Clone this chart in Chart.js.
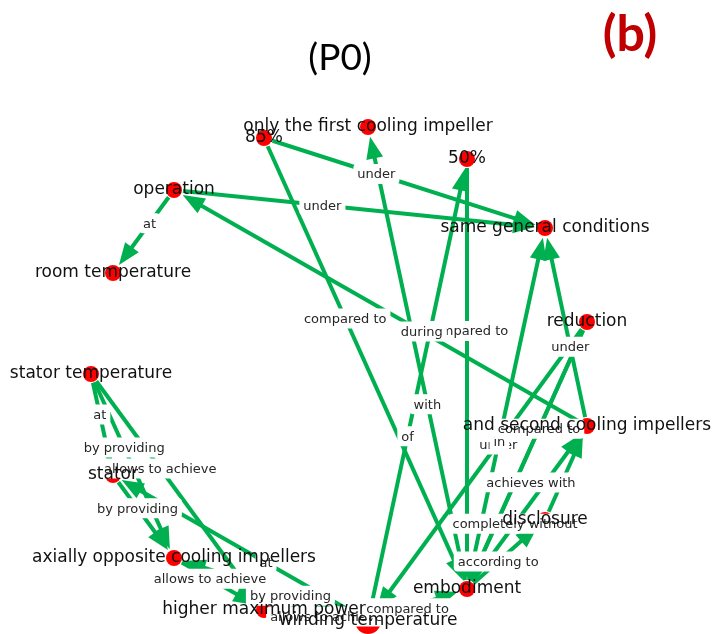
<!DOCTYPE html>
<html>
<head>
<meta charset="utf-8">
<script src="https://cdn.jsdelivr.net/npm/chart.js@4.4.0/dist/chart.umd.min.js"></script>
<style>
  body { margin: 0; background: #fff; }
  #area { width: 715px; height: 634px; position: relative; }
</style>
</head>
<body>
<div id="area"><canvas id="grafo"></canvas></div>
<script>
/*nós do grafo (layout circular)*/
const nos = [
  'stator temperature', 'stator', 'axially opposite cooling impellers', 'higher maximum power',
  'winding temperature', 'embodiment', 'disclosure', 'and second cooling impellers',
  'reduction', 'same general conditions', '50%', 'only the first cooling impeller',
  '85%', 'operation', 'room temperature'
];
const nosX = [91, 113, 174, 264, 368, 467, 545, 587, 587, 545, 467, 368, 264, 174, 113];
const nosY = [374, 475, 558, 610, 621, 589, 520, 426, 322, 228, 159, 127, 138, 190, 273];

/*arestas: origem -> destino com rótulo*/
const origem = [
  'operation', 'operation', '85%', '85%', 'embodiment', 'winding temperature',
  '50%', 'and second cooling impellers', 'and second cooling impellers', 'embodiment',
  'reduction', 'reduction', 'embodiment', 'disclosure', 'embodiment', 'embodiment',
  'stator temperature', 'stator temperature', 'stator temperature', 'stator',
  'axially opposite cooling impellers', 'winding temperature', 'winding temperature',
  'winding temperature', 'winding temperature'
];
const destino = [
  'room temperature', 'same general conditions', 'same general conditions', 'embodiment',
  'only the first cooling impeller', '50%', 'embodiment', 'operation', 'same general conditions',
  'same general conditions', 'winding temperature', 'embodiment', 'reduction',
  'and second cooling impellers', 'and second cooling impellers', 'disclosure',
  'stator', 'axially opposite cooling impellers', 'higher maximum power',
  'axially opposite cooling impellers', 'higher maximum power', 'stator',
  'axially opposite cooling impellers', 'higher maximum power', 'embodiment'
];
const rotulos = [
  'at', 'under', 'under', 'compared to', 'with', 'of', 'compared to', 'during', 'under',
  'under', 'in', 'compared to', 'achieves', 'with', 'completely without', 'according to',
  'at', 'by providing', 'allows to achieve', 'by providing', 'allows to achieve', 'at',
  'by providing', 'allows to achieve', 'compared to'
];

const noGrande = 'winding temperature';
const corAresta = '#00b050';
const corNo = '#ff0000';

function raio(nome) {
  return nome === noGrande ? 13 : 8;
}

const desenhaGrafo = {
  id: 'desenhaGrafo',
  beforeDatasetsDraw(chart) {
    const ctx = chart.ctx;
    const sx = chart.scales.x, sy = chart.scales.y;
    ctx.save();
    ctx.strokeStyle = corAresta;
    ctx.fillStyle = corAresta;
    ctx.lineWidth = 4;
    origem.forEach((o, i) => {
      const a = nos.indexOf(o), b = nos.indexOf(destino[i]);
      const x1 = sx.getPixelForValue(nosX[a]), y1 = sy.getPixelForValue(nosY[a]);
      const x2 = sx.getPixelForValue(nosX[b]), y2 = sy.getPixelForValue(nosY[b]);
      const dx = x2 - x1, dy = y2 - y1;
      const len = Math.hypot(dx, dy);
      const ux = dx / len, uy = dy / len;
      const px = x1 + ux * (raio(o) + 1), py = y1 + uy * (raio(o) + 1);
      const tx = x2 - ux * (raio(destino[i]) + 2), ty = y2 - uy * (raio(destino[i]) + 2);
      const cab = 22, larg = 8.5;
      ctx.beginPath();
      ctx.moveTo(px, py);
      ctx.lineTo(tx - ux * cab * 0.8, ty - uy * cab * 0.8);
      ctx.stroke();
      ctx.beginPath();
      ctx.moveTo(tx, ty);
      ctx.lineTo(tx - ux * cab - uy * larg, ty - uy * cab + ux * larg);
      ctx.lineTo(tx - ux * cab + uy * larg, ty - uy * cab - ux * larg);
      ctx.closePath();
      ctx.fill();
    });
    ctx.restore();
  },
  afterDatasetsDraw(chart) {
    const ctx = chart.ctx;
    const sx = chart.scales.x, sy = chart.scales.y;
    ctx.save();
    ctx.textAlign = 'center';
    ctx.textBaseline = 'middle';

    /*rótulos das arestas*/
    ctx.font = '13px "DejaVu Sans"';
    origem.forEach((o, i) => {
      const a = nos.indexOf(o), b = nos.indexOf(destino[i]);
      const x1 = sx.getPixelForValue(nosX[a]), y1 = sy.getPixelForValue(nosY[a]);
      const x2 = sx.getPixelForValue(nosX[b]), y2 = sy.getPixelForValue(nosY[b]);
      const lx = x1 + (x2 - x1) * 0.4, ly = y1 + (y2 - y1) * 0.4;
      const w = ctx.measureText(rotulos[i]).width;
      ctx.fillStyle = '#ffffff';
      ctx.beginPath();
      ctx.roundRect(lx - w / 2 - 4, ly - 10, w + 8, 20, 4);
      ctx.fill();
      ctx.fillStyle = '#262626';
      ctx.fillText(rotulos[i], lx, ly + 1);
    });

    /*rótulos dos nós*/
    ctx.font = '17px "DejaVu Sans"';
    ctx.fillStyle = '#111111';
    nos.forEach((n, i) => {
      ctx.fillText(n, sx.getPixelForValue(nosX[i]), sy.getPixelForValue(nosY[i]));
    });

    /*títulos*/
    ctx.font = '37px Lato';
    ctx.fillStyle = '#000000';
    ctx.fillText('(P0)', 340, 58);
    ctx.font = 'bold 50px Lato';
    ctx.fillStyle = '#c00000';
    ctx.fillText('(b)', 630, 35);
    ctx.restore();
  }
};

const grafoChart = new Chart(document.getElementById('grafo').getContext('2d'), {
  type: 'scatter',
  data: {
    datasets: [{
      data: nos.map((n, i) => ({ x: nosX[i], y: nosY[i] })),
      pointRadius: nos.map(n => raio(n)),
      pointHoverRadius: nos.map(n => raio(n)),
      backgroundColor: corNo,
      borderWidth: 0
    }]
  },
  options: {
    responsive: true,
    maintainAspectRatio: false,
    animation: false,
    layout: { padding: 0, autoPadding: false },
    scales: {
      x: { type: 'linear', min: 0, max: 715, display: false },
      y: { type: 'linear', min: 0, max: 634, reverse: true, display: false }
    },
    plugins: {
      legend: { display: false },
      tooltip: { enabled: false }
    }
  },
  plugins: [desenhaGrafo]
});
</script>
</body>
</html>
